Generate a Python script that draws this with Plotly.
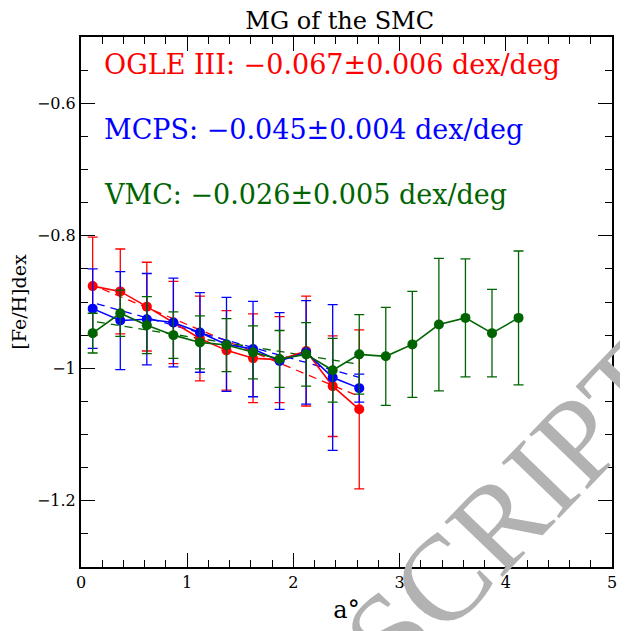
import plotly.graph_objects as go

# ---- data ----
x_ogle = [0.11, 0.37, 0.62, 0.87, 1.12, 1.37, 1.62, 1.87, 2.12, 2.37, 2.62]
feh_ogle = [-0.876, -0.884, -0.907, -0.931, -0.955, -0.973, -0.985, -0.987, -0.974, -1.027, -1.062]
err_ogle = [0.074, 0.064, 0.067, 0.062, 0.064, 0.060, 0.067, 0.065, 0.083, 0.076, 0.120]

x_mcps = [0.11, 0.37, 0.62, 0.87, 1.12, 1.37, 1.62, 1.87, 2.12, 2.37, 2.62]
feh_mcps = [-0.910, -0.928, -0.926, -0.931, -0.946, -0.964, -0.971, -0.989, -0.976, -1.014, -1.030]
err_mcps = [0.060, 0.074, 0.069, 0.067, 0.060, 0.071, 0.072, 0.073, 0.078, 0.110, 0.021]

x_vmc = [0.11, 0.37, 0.62, 0.87, 1.12, 1.37, 1.62, 1.87, 2.12, 2.37, 2.62,
         2.87, 3.12, 3.37, 3.62, 3.87, 4.12]
feh_vmc = [-0.947, -0.917, -0.935, -0.950, -0.961, -0.965, -0.976, -0.986, -0.979, -1.003, -0.979,
           -0.982, -0.964, -0.934, -0.924, -0.947, -0.924]
err_vmc = [0.030, 0.035, 0.043, 0.035, 0.040, 0.040, 0.040, 0.043, 0.048, 0.048, 0.060,
           0.074, 0.080, 0.100, 0.089, 0.066, 0.101]

# linear fits (intercept, slope) and fitted range
fit_names = ["OGLE III", "MCPS", "VMC"]
fit_intercepts = [-0.867, -0.896, -0.926]
fit_slopes = [-0.067, -0.045, -0.026]
fit_slope_errs = [0.006, 0.004, 0.005]
fit_xrange = [[0.2, 2.62], [0.15, 2.62], [0.15, 2.62]]
colors = ["#ff0000", "#0000ff", "#006400"]

series = [(x_ogle, feh_ogle, err_ogle), (x_mcps, feh_mcps, err_mcps), (x_vmc, feh_vmc, err_vmc)]

fig = go.Figure()
for (xs, ys, es), c, a, b, xr in zip(series, colors, fit_intercepts, fit_slopes, fit_xrange):
    fig.add_trace(go.Scatter(
        x=[xr[0], xr[1]], y=[a + b * xr[0], a + b * xr[1]], mode="lines",
        line=dict(color=c, width=1.3, dash="8px,6px"), showlegend=False, hoverinfo="skip"))
for (xs, ys, es), c in zip(series, colors):
    fig.add_trace(go.Scatter(
        x=xs, y=ys, mode="lines+markers",
        line=dict(color=c, width=1.6),
        marker=dict(color=c, size=10),
        error_y=dict(type="data", array=es, visible=True, color=c, thickness=1.3, width=5),
        showlegend=False))

serif = "DejaVu Serif"

# watermark
fig.add_annotation(x=0.808, y=0.108, xref="paper", yref="paper", text="SCRIPT",
                   showarrow=False, textangle=-46, xanchor="center", yanchor="middle",
                   font=dict(family="Liberation Serif", size=122, color="rgb(178,178,178)"))

ann_y = [-0.541, -0.64, -0.737]
for name, s, se, c, yy in zip(fit_names, fit_slopes, fit_slope_errs, colors, ann_y):
    txt = f"{name}: \u2212{abs(s):.3f}\u00b1{se:.3f} dex/deg"
    fig.add_annotation(x=0.2, y=yy, xref="x", yref="y", text=txt, showarrow=False,
                       xanchor="left", yanchor="middle",
                       font=dict(family=serif, size=27, color=c))

axis_common = dict(showline=True, linecolor="black", linewidth=2, mirror="ticks",
                   ticks="inside", ticklen=14, tickwidth=1.3, tickcolor="black",
                   showgrid=False, zeroline=False, automargin=False,
                   tickfont=dict(family=serif, size=16, color="black"))

# page body has an 8px margin, so the figure is sized to fit the 628x631 window
fig.update_layout(
    width=620, height=623,
    margin=dict(l=73, r=16, t=29, b=64, autoexpand=False),
    paper_bgcolor="white", plot_bgcolor="white",
    title=dict(text="MG of the SMC", x=0.535, xanchor="center", y=0.979, yanchor="middle",
               font=dict(family=serif, size=24, color="black")),
    xaxis=dict(range=[0, 5], dtick=1, tick0=0,
               minor=dict(dtick=0.2, ticks="inside", ticklen=7, tickcolor="black", tickwidth=1.2),
               title=dict(text="a\u00b0", font=dict(family=serif, size=24, color="black"), standoff=10),
               **axis_common),
    yaxis=dict(range=[-1.3, -0.5], dtick=0.2, tick0=-1.2,
               minor=dict(dtick=0.05, ticks="inside", ticklen=7, tickcolor="black", tickwidth=1.2),
               title=dict(text="[Fe/H]dex", font=dict(family=serif, size=19, color="black"), standoff=14),
               **axis_common),
)

fig.write_html("out.html")
